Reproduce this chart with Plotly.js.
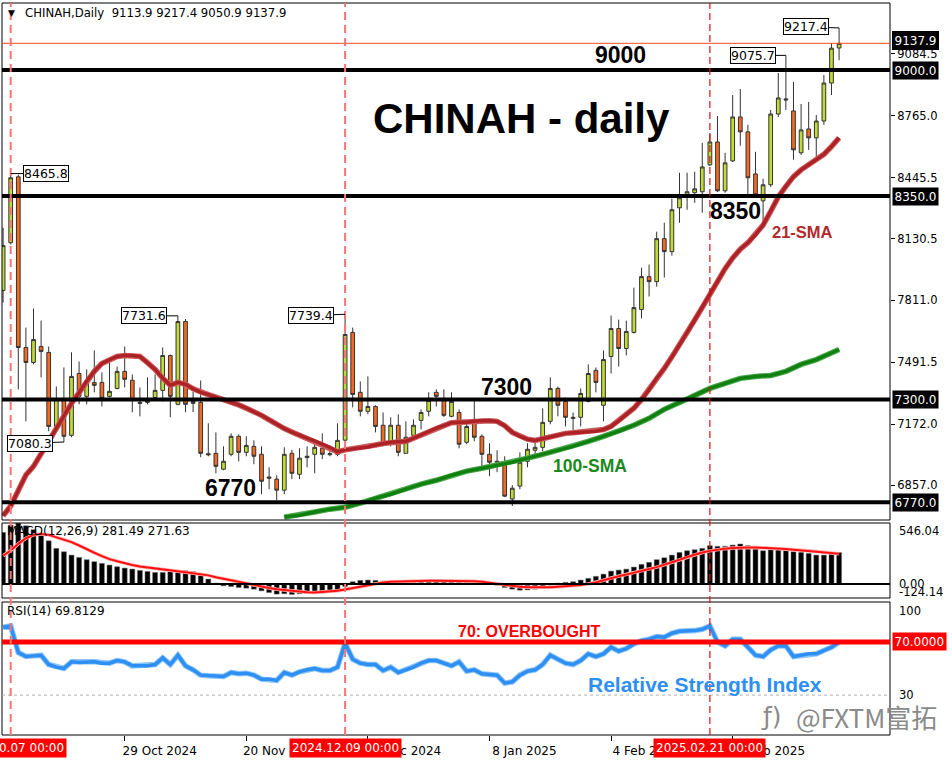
<!DOCTYPE html>
<html><head><meta charset="utf-8">
<script src="https://cdn.plot.ly/plotly-3.0.1.min.js"></script>
<style>html,body{margin:0;padding:0;background:#fff}#chart{width:952px;height:762px}</style>
</head><body><div id="chart"></div>
<script>
const dates = ["2024-10-04","2024-10-07","2024-10-08","2024-10-09","2024-10-10","2024-10-14","2024-10-15","2024-10-16","2024-10-17","2024-10-18",
"2024-10-21","2024-10-22","2024-10-23","2024-10-24","2024-10-25","2024-10-28","2024-10-29","2024-10-30","2024-10-31","2024-11-01",
"2024-11-04","2024-11-05","2024-11-06","2024-11-07","2024-11-08","2024-11-11","2024-11-12","2024-11-13","2024-11-14","2024-11-15",
"2024-11-18","2024-11-19","2024-11-20","2024-11-21","2024-11-22","2024-11-25","2024-11-26","2024-11-27","2024-11-28","2024-11-29",
"2024-12-02","2024-12-03","2024-12-04","2024-12-05","2024-12-06","2024-12-09","2024-12-10","2024-12-11","2024-12-12","2024-12-13",
"2024-12-16","2024-12-17","2024-12-18","2024-12-19","2024-12-20","2024-12-23","2024-12-24","2024-12-27","2024-12-30","2024-12-31",
"2025-01-02","2025-01-03","2025-01-06","2025-01-07","2025-01-08","2025-01-09","2025-01-10","2025-01-13","2025-01-14","2025-01-15",
"2025-01-16","2025-01-17","2025-01-20","2025-01-21","2025-01-22","2025-01-23","2025-01-24","2025-01-27","2025-01-28","2025-02-03",
"2025-02-04","2025-02-05","2025-02-06","2025-02-07","2025-02-10","2025-02-11","2025-02-12","2025-02-13","2025-02-14","2025-02-17",
"2025-02-18","2025-02-19","2025-02-20","2025-02-21","2025-02-24","2025-02-25","2025-02-26","2025-02-27","2025-02-28","2025-03-03",
"2025-03-04","2025-03-05","2025-03-06","2025-03-07","2025-03-10","2025-03-11","2025-03-12","2025-03-13","2025-03-14","2025-03-17",
"2025-03-18"];

const open = [7862,8109,8449,7568,7491,7573,7543,7161,7300,7115,
7434,7316,7388,7388,7316,7357,7445,7399,7285,7285,
7310,7347,7527,7275,7702,7290,7285,7020,7022,6940,
7017,7110,7027,7058,7017,6900,6889,6832,7022,6914,
7000,7017,7048,7015,7017,7090,7646,7337,7239,7264,
7167,7084,7167,7022,7115,7192,7239,7337,7300,7213,
7233,7079,7177,7110,7017,6981,6961,6786,6853,6981,
7038,7053,7187,7357,7290,7208,7208,7290,7450,7270,
7522,7666,7563,7646,7764,7934,7908,8130,8063,8289,
8356,8367,8372,8511,8629,8377,8531,8758,8681,8464,
8325,8408,8773,8851,8789,8573,8696,8650,8737,8933,
9113.9];
const high = [8186,8465.8,8460,7671,7769,7707,7573,7367,7465,7543,
7496,7455,7553,7440,7491,7470,7573,7429,7362,7414,
7429,7568,7532,7731.6,7715,7340,7398,7177,7130,7058,
7125,7120,7110,7089,7058,6950,6909,7053,7040,7048,
7058,7074,7125,7045,7177,7739.4,7671,7393,7419,7270,
7233,7208,7223,7187,7197,7249,7337,7352,7352,7337,
7249,7182,7300,7120,7074,7038,7007,6858,7027,7074,
7100,7254,7414,7367,7311,7233,7357,7481,7465,7553,
7733,7712,7707,7877,7980,7996,8166,8212,8336,8470,
8470,8475,8624,8675,8763,8573,8871,8902,8717,8578,
8439,8794,8985,9075.7,8938,8825,8835,8768,8974,9139,
9217.4];
const low = [7800,8100,7352,7187,7481,7414,7136,7146,7080.3,7105,
7275,7275,7337,7264,7310,7352,7362,7234,7213,7275,
7305,7290,7208,7270,7234,7235,7002,7007,6919,6935,
7007,6981,7007,6966,6811,6837,6780,6811,6889,6889,
6950,6919,6992,7007,7007,7085,7259,7213,7223,7130,
7058,7058,7007,7022,7095,7146,7213,7264,7210,7208,
7048,7069,7084,6955,6904,6925,6796,6750,6837,6950,
7017,7033,7172,7213,7161,7136,7161,7285,7337,7187,
7434,7470,7527,7640,7718,7831,7882,7929,8042,8212,
8279,8315,8264,8505,8370,8367,8526,8609,8341,8346,
8202,8397,8758,8794,8537,8562,8588,8552,8717,8871,
9050.9];
const close = [8094,8444,7568,7491,7609,7548,7161,7300,7110,7419,
7316,7393,7373,7306,7342,7445,7404,7300,7280,7290,
7347,7527,7316,7702,7275,7280,7022,7015,6955,6981,
7110,7027,7063,7007,6878,6894,6832,7017,6919,6997,
7007,7053,7017,7020,7089,7635,7326,7239,7264,7161,
7064,7167,7027,7105,7167,7233,7295,7316,7218,7290,
7069,7161,7105,7017,6976,6976,6801,6842,6976,7043,
7053,7182,7357,7270,7208,7203,7331,7434,7388,7506,
7666,7563,7651,7774,7934,7908,8130,8063,8279,8341,
8372,8387,8500,8629,8377,8521,8758,8681,8444,8356,
8408,8773,8856,8846,8588,8691,8650,8737,8933,9113,
9137.9];

const sma21 = [6700,6750,6830,6910,6955,7020,7090,7150,7223,7280,
7335,7395,7445,7486,7505,7522,7527,7527,7522,7490,
7455,7410,7373,7388,7378,7355,7337,7325,7312,7300,
7288,7272,7255,7238,7218,7195,7170,7150,7132,7115,
7100,7086,7070,7053,7030,7040,7045,7050,7055,7065,
7073,7079,7082,7084,7100,7118,7135,7152,7165,7180,
7182,7182,7188,7192,7190,7187,7165,7130,7110,7095,
7089,7098,7110,7118,7125,7128,7131,7133,7136,7145,
7161,7190,7220,7255,7300,7350,7410,7460,7520,7580,
7645,7710,7775,7845,7910,7975,8030,8075,8109,8150,
8200,8270,8345,8400,8450,8485,8510,8535,8565,8605,
8650];
const sma100 = [null,null,null,null,null,null,null,null,null,null,
null,null,null,null,null,null,null,null,null,null,
null,null,null,null,null,null,null,null,null,null,
null,null,null,null,null,null,null,6693,null,6703,
null,6719,null,6734,null,6744,null,6765,null,6791,
null,6811,null,6837,null,6863,null,6883,null,6909,
null,6930,null,6945,null,6961,null,6976,null,6997,
null,7017,null,7038,null,7058,null,7084,null,7110,
null,7136,null,7167,null,7203,null,7249,null,7285,
null,7321,null,7357,null,7383,null,7409,null,7419,
null,7424,null,7445,null,7481,null,7506,null,7542,
7558];

const macdHist = [462,527,545,521,486,447,387,319,289,259,
238,218,200,185,170,155,143,134,122,113,
104,104,113,119,119,110,80,45,9,-15,
-21,-30,-36,-45,-60,-75,-89,-86,-92,-86,
-83,-83,-80,-75,-60,-21,21,33,36,33,
27,24,24,27,30,33,36,39,36,36,
27,27,27,15,0,-9,-30,-45,-54,-51,
-45,-33,-9,9,15,21,36,51,69,89,
116,125,134,152,176,194,218,235,259,283,
298,307,319,343,337,337,349,358,343,322,
298,307,313,307,289,283,274,259,259,268,
281.49];
const macdSignal = [253,300,360,410,440,447,440,420,400,375,
345,310,280,250,223,205,185,170,158,148,
138,128,120,112,105,97,89,78,62,48,
33,18,3,-12,-25,-35,-45,-53,-60,-66,
-72,-75,-72,-68,-60,-48,-35,-22,-8,5,
15,21,24,26,28,30,31,31,31,31,
30,28,26,21,12,2,-10,-18,-24,-28,
-30,-30,-28,-24,-20,-15,-9,2,15,35,
55,70,85,100,117,135,152,172,195,218,
242,265,282,297,308,317,322,326,328,327,
325,322,319,314,308,303,298,292,286,279,
271.63];
const rsi = [81,82,62,59,59.5,60,53,51,50,55,
54.5,55,55,54,54,56,55,52,52,52,
53,58,53,60,52,49,45,44.5,44,44,
47,46,46.5,45,42,42,41,47,45,47.5,
49,50,48.5,48.5,51,69,57,54,53,53,
48.5,51,47,49,51,54,56,56,54,52,
55,48,49,46,45.5,45,39,40,45,48,
49,53,60,57,54,53,56,61,59,61,
66,63,65,68.5,71,72,74,73.5,76.5,78,
78,78.5,79.5,82,70,67,72,72,66,60,
59,64,67,67,59,60,61,61,63.5,66,
69.8129];

const levels = [9000, 8350, 7300, 6770];
const levelText = ["9000", "8350", "7300", "6770"];
const priceTicks = [9084.5, 8765.0, 8445.5, 8130.5, 7811.0, 7491.5, 7172.0, 6857.0];
const markDates = ["2024-10-07", "2024-12-09", "2025-02-21"];
const markLabels = ["2024.10.07 00:00", "2024.12.09 00:00", "2025.02.21 00:00"];
const xTickDates = ["2024-10-29","2024-11-20","2024-12-12","2025-01-08","2025-02-04","2025-02-26"];
const xTickText = ["29 Oct 2024","20 Nov 2024","12 Dec 2024","8 Jan 2025","4 Feb 2025","26 Feb 2025"];
const macdRange = [-124.14, 546.04];
const rsiLevels = [70, 30];

// layout helpers (pixel -> paper)
const ML = 2, MR = 62, MT = 3, MB = 27, W = 952, H = 762;
const PW = W - ML - MR, PH = H - MT - MB;
const px = x => (x - ML) / PW;
const py = y => 1 - (y - MT) / PH;
const last = close.length - 1;
const FONT = "DejaVu Sans";
const BOLD = "Liberation Sans";

const traces = [
  {type: "candlestick", x: dates, open: open, high: high, low: low, close: close,
   xaxis: "x", yaxis: "y", whiskerwidth: 0, hoverinfo: "skip",
   increasing: {line: {color: "#333333", width: 1}, fillcolor: "#c2da36"},
   decreasing: {line: {color: "#333333", width: 1}, fillcolor: "#f26a21"}},
  {type: "scatter", mode: "lines", x: dates, y: sma21, xaxis: "x", yaxis: "y",
   line: {color: "#cc5a5a", width: 5.5}, hoverinfo: "skip", connectgaps: true},
  {type: "scatter", mode: "lines", x: dates, y: sma21, xaxis: "x", yaxis: "y",
   line: {color: "#ad2226", width: 3.5}, hoverinfo: "skip", connectgaps: true},
  {type: "scatter", mode: "lines", x: dates, y: sma100, xaxis: "x", yaxis: "y",
   line: {color: "#4aa84a", width: 5.5}, hoverinfo: "skip", connectgaps: true},
  {type: "scatter", mode: "lines", x: dates, y: sma100, xaxis: "x", yaxis: "y",
   line: {color: "#108010", width: 3.5}, hoverinfo: "skip", connectgaps: true},
  {type: "bar", x: dates, y: macdHist, xaxis: "x", yaxis: "y2",
   marker: {color: "#000000", line: {color: "#666", width: 0.5}}, hoverinfo: "skip"},
  {type: "scatter", mode: "lines", x: dates, y: macdSignal, xaxis: "x", yaxis: "y2",
   line: {color: "#ffb0b0", width: 3.5}, hoverinfo: "skip"},
  {type: "scatter", mode: "lines", x: dates, y: macdSignal, xaxis: "x", yaxis: "y2",
   line: {color: "#ff1010", width: 2}, hoverinfo: "skip"},
  {type: "scatter", mode: "lines", x: dates, y: rsi, xaxis: "x", yaxis: "y3",
   line: {color: "#8cc4fa", width: 5.5}, hoverinfo: "skip"},
  {type: "scatter", mode: "lines", x: dates, y: rsi, xaxis: "x", yaxis: "y3",
   line: {color: "#2d8ff2", width: 3.5}, hoverinfo: "skip"}
];

const shapes = [];
["y", "y2", "y3"].forEach(a => shapes.push({type: "rect", xref: "paper", yref: a + " domain",
  x0: 0, x1: 1, y0: 0, y1: 1, line: {color: "#000", width: 1}, layer: "above"}));
levels.forEach(v => shapes.push({type: "line", xref: "paper", yref: "y", x0: 0, x1: 1, y0: v, y1: v,
  line: {color: "#000", width: 4}, layer: "above"}));
shapes.push({type: "line", xref: "paper", yref: "y", x0: 0, x1: 1, y0: close[last], y1: close[last],
  line: {color: "#ff4a1a", width: 1}, layer: "above"});
shapes.push({type: "line", xref: "paper", yref: "y2", x0: 0, x1: 1, y0: 0, y1: 0,
  line: {color: "#000", width: 2}, layer: "above"});
shapes.push({type: "line", xref: "paper", yref: "y3", x0: 0, x1: 1, y0: rsiLevels[1], y1: rsiLevels[1],
  line: {color: "#b0b0b0", width: 1, dash: "dot"}, layer: "above"});
shapes.push({type: "line", xref: "paper", yref: "y3", x0: 0, x1: 1, y0: rsiLevels[0], y1: rsiLevels[0],
  line: {color: "#ff0000", width: 5}, layer: "above"});
markDates.forEach((d, k) => shapes.push({type: "line", xref: "x", yref: "paper", x0: d, x1: d, y0: 0, y1: 1,
  line: k < 2 ? {color: "#ff7272", width: 2, dash: "8px,5px"} : {color: "#e01010", width: 1.2, dash: "7px,4px"},
  layer: "above"}));

const ann = [];
const T = (text, x, y, size, color, opts) => ann.push(Object.assign({text: text, xref: "paper", yref: "paper",
  x: px(x), y: py(y), showarrow: false, xanchor: "center", yanchor: "middle",
  font: {family: BOLD, size: size, color: color}}, opts || {}));

T(`CHINAH,Daily  ${open[last]} ${high[last]} ${low[last]} ${close[last]}`, 23, 13, 11.7, "#000",
  {xanchor: "left", font: {family: FONT, size: 11.7, color: "#000"}});
T("▼", 11, 13, 9, "#000", {font: {family: FONT, size: 9, color: "#000"}});
T("<b>CHINAH - daily</b>", 521, 118, 42, "#000");
const lvlPos = [[620, 55], [735, 211], [506, 387], [231, 488]];
levelText.forEach((t, k) => T("<b>" + t + "</b>", lvlPos[k][0], lvlPos[k][1], 23, "#000"));
T("<b>21-SMA</b>", 802, 232, 16.5, "#b3282b");
T("<b>100-SMA</b>", 590, 466, 17.5, "#1b8a1b");
T("<b>70: OVERBOUGHT</b>", 529, 631, 16, "#ff0000");
T("<b>Relative Strength Index</b>", 705, 684, 21, "#2d8ff2");
T(`MACD(12,26,9) ${macdHist[last]} ${macdSignal[last]}`, 5, 531, 12, "#000",
  {xanchor: "left", font: {family: FONT, size: 12, color: "#000"}});
T(`RSI(14) ${rsi[last]}`, 5, 611, 12, "#000", {xanchor: "left", font: {family: FONT, size: 12, color: "#000"}});
T("ƒ)", 771, 716, 25, "#8a8a8a", {font: {family: FONT, size: 25, color: "#8a8a8a"}});
T("@FXTM富拓", 866, 716, 26, "#8a8a8a", {font: {family: "Noto Sans CJK SC", size: 26, color: "#8a8a8a"}});

// right-side labels for MACD and RSI panels
const R = (text, y, opts) => T(text, 897, y, 11.5, "#000", Object.assign({xanchor: "left",
  font: {family: FONT, size: 11.5, color: "#000"}}, opts || {}));
R(macdRange[1].toFixed(2), 531);
R("0.00", 584);
R(macdRange[0].toFixed(2), 592);
R("100", 611);
R(rsiLevels[1].toString(), 695);

// black level boxes on price axis
levels.forEach(v => ann.push({text: v.toFixed(1), xref: "paper", yref: "y", x: 1, y: v, xshift: 2,
  xanchor: "left", yanchor: "middle", showarrow: false, bgcolor: "#000", borderpad: 1.5,
  font: {family: FONT, size: 12, color: "#fff"}}));
ann.push({text: close[last].toFixed(1), xref: "paper", yref: "y", x: 1, y: close[last], xshift: 2, yshift: 3,
  xanchor: "left", yanchor: "middle", showarrow: false, bgcolor: "#000", borderpad: 1.5,
  bordercolor: "#000", font: {family: FONT, size: 12, color: "#fff"}});
ann.push({text: rsiLevels[0].toFixed(4), xref: "paper", yref: "y3", x: 1, y: rsiLevels[0], xshift: 2,
  xanchor: "left", yanchor: "middle", showarrow: false, bgcolor: "#ff0000", borderpad: 1.5,
  font: {family: FONT, size: 12, color: "#fff"}});

// red date boxes at the bottom
markDates.forEach((d, k) => ann.push({text: markLabels[k], xref: "x", yref: "paper", x: d, y: py(748),
  xanchor: "center", yanchor: "middle", showarrow: false, bgcolor: "#ff0000", borderpad: 2,
  font: {family: FONT, size: 12, color: "#fff"}}));

// high / low price callouts
const callouts = [
  {i: 1, v: high[1], ax: 35, ay: 0},
  {i: 8, v: low[8], ax: -34, ay: 1},
  {i: 23, v: high[23], ax: -34, ay: 0},
  {i: 45, v: high[45], ax: -34, ay: 1},
  {i: 103, v: high[103], ax: -33, ay: 0},
  {i: 110, v: high[110], ax: -33, ay: -1}
];
callouts.forEach(c => ann.push({text: c.v.toFixed(1), xref: "x", yref: "y", x: dates[c.i], y: c.v,
  showarrow: true, arrowhead: 0, arrowwidth: 1, arrowcolor: "#000", ax: c.ax, ay: c.ay,
  bgcolor: "#fff", bordercolor: "#000", borderwidth: 1, borderpad: 0,
  font: {family: FONT, size: 12.5, color: "#000"}}));

const layout = {
  width: W, height: H, margin: {l: ML, r: MR, t: MT, b: MB},
  paper_bgcolor: "#fff", plot_bgcolor: "#fff", showlegend: false, bargap: 0.35,
  dragmode: false, hovermode: false,
  xaxis: {type: "category", range: [-0.145, 116.7], anchor: "y3", rangeslider: {visible: false},
    tickvals: xTickDates, ticktext: xTickText, ticks: "outside", ticklen: 5, tickcolor: "#000",
    ticklabelshift: 35, showgrid: false, zeroline: false, showline: false,
    tickfont: {family: FONT, size: 12, color: "#000"}},
  yaxis: {domain: [py(520), 1], range: [6678, 9346], side: "right", anchor: "x",
    tickvals: priceTicks, ticktext: priceTicks.map(v => v.toFixed(1)), ticks: "outside", ticklen: 4,
    tickcolor: "#000", showgrid: false, zeroline: false, tickfont: {family: FONT, size: 11.5, color: "#000"}},
  yaxis2: {domain: [py(598), py(523)], range: macdRange, side: "right", anchor: "x",
    showticklabels: false, showgrid: false, zeroline: false},
  yaxis3: {domain: [0, py(602)], range: [0, 100], side: "right", anchor: "x",
    showticklabels: false, showgrid: false, zeroline: false},
  shapes: shapes, annotations: ann
};

Plotly.newPlot("chart", traces, layout, {staticPlot: true, displayModeBar: false});
</script></body></html>
